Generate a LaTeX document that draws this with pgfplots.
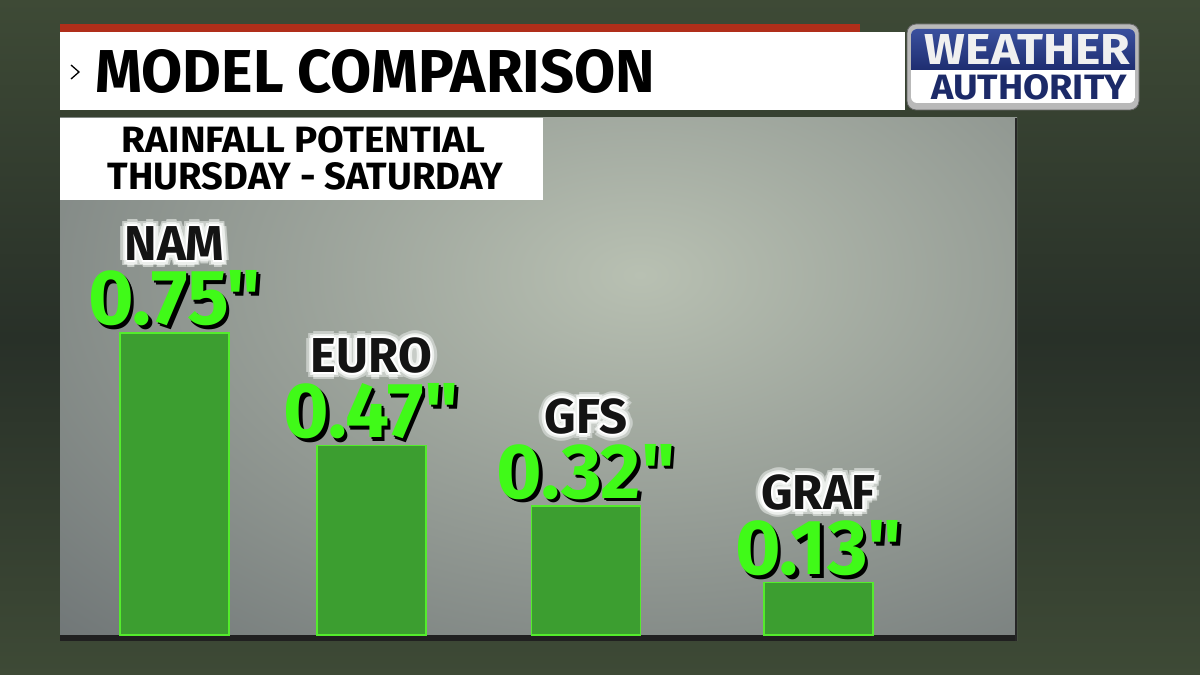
\documentclass[border=0pt]{standalone}
\usepackage{pgfplots}
\pgfplotsset{compat=1.18}
\usepackage{fontspec}
\setmainfont{Fira Sans}
\newfontfamily\valfont{Fira Sans}[Ligatures=TeXOff]
\usepackage{graphicx}

\definecolor{bgA}{RGB}{62,74,54}
\definecolor{bgB}{RGB}{40,48,40}
\definecolor{panellight}{RGB}{184,192,178}
\definecolor{paneldark}{RGB}{106,112,114}
\definecolor{redstrip}{RGB}{176,46,26}
\definecolor{barfill}{RGB}{60,158,48}
\definecolor{barline}{RGB}{84,236,44}
\definecolor{lgreen}{RGB}{64,250,24}
\definecolor{navy}{RGB}{28,42,104}
\definecolor{logoblue}{RGB}{30,45,112}
\definecolor{logobluelight}{RGB}{58,80,158}
\definecolor{glowA}{RGB}{200,205,200}
\definecolor{glowB}{RGB}{236,239,236}

\newbox\lbox
\newcommand\putat[3]{\rlap{\hspace*{#1}\raisebox{#2}[0pt][0pt]{#3}}}
\newcommand\ring[3]{%
 \putat{#1}{0pt}{\color{#3}\copy\lbox}\putat{-#1}{0pt}{\color{#3}\copy\lbox}%
 \putat{0pt}{#1}{\color{#3}\copy\lbox}\putat{0pt}{-#1}{\color{#3}\copy\lbox}%
 \putat{#2}{#2}{\color{#3}\copy\lbox}\putat{-#2}{#2}{\color{#3}\copy\lbox}%
 \putat{#2}{-#2}{\color{#3}\copy\lbox}\putat{-#2}{-#2}{\color{#3}\copy\lbox}}
\newcommand\glowname[1]{\setbox\lbox\hbox{\fontsize{49}{49}\selectfont\bfseries #1}%
 \ring{7pt}{5pt}{glowA}\ring{4.5pt}{3.2pt}{glowB}\ring{2pt}{1.4pt}{white}%
 {\color{black!92}\copy\lbox}}
\newcommand\shadowval[1]{\setbox\lbox\hbox{\valfont\fontsize{78}{78}\selectfont\bfseries #1}%
 \putat{3.5pt}{-3.5pt}{\color{black}\copy\lbox}\putat{2pt}{-2pt}{\color{black}\copy\lbox}%
 {\color{lgreen}\copy\lbox}}
\newcommand\barlabel[2]{\vbox{\offinterlineskip\halign{\hfil##\hfil\cr\glowname{#1}\cr\noalign{\vskip 10pt}\shadowval{#2}\cr}}}

\begin{document}
\begin{tikzpicture}[x=1pt,y=1pt]
\useasboundingbox (0,0) rectangle (1200,675);
% background
\shade[top color=bgA, bottom color=bgA, middle color=bgB] (0,0) rectangle (1200,675);
% panel
\begin{scope}
\clip (60,34) rectangle (1017,557);
\fill[paneldark] (60,34) rectangle (1017,557);
\shade[inner color=panellight, outer color=paneldark] (640,400) ellipse (900 and 560);
\end{scope}
\fill[black!75!gray] (60,34) rectangle (1017,40);
\draw[black!70!gray, line width=2pt] (1016,34) -- (1016,557);
% title bar
\fill[white] (60,565) rectangle (905,643);
\fill[redstrip] (60,643) rectangle (860,651);
\draw[line width=1.3pt, black] (71,610) -- (79,603) -- (71,596);
\node[anchor=base west, inner sep=0pt] at (95,582) {\resizebox{560pt}{43pt}{\bfseries MODEL COMPARISON}};
% subtitle box
\fill[white] (60,475) rectangle (543,557);
\node[anchor=base, inner sep=0pt] at (303.5,522) {\resizebox{363pt}{26pt}{\bfseries RAINFALL POTENTIAL}};
\node[anchor=base, inner sep=0pt] at (305.5,485) {\resizebox{395pt}{27pt}{\bfseries THURSDAY - SATURDAY}};
% logo
\fill[gray!55, draw=black!60, line width=0.8pt, rounded corners=9pt] (907,565) rectangle (1139,651);
\begin{scope}
\clip[rounded corners=6pt] (911,572) rectangle (1135,646);
\fill[white] (911,572) rectangle (1135,646);
\shade[top color=logobluelight, bottom color=logoblue] (911,605) rectangle (1135,646);
\end{scope}
\node[anchor=base, inner sep=0pt, text=black!6] at (1027.5,610) {\resizebox{205pt}{30pt}{\bfseries WEATHER}};
\node[anchor=base, inner sep=0pt, text=navy] at (1029,575) {\resizebox{196pt}{25pt}{\bfseries AUTHORITY}};
% chart
\begin{axis}[
  at={(60pt,40pt)}, anchor=south west,
  scale only axis, width=957pt, height=517pt,
  xmin=60, xmax=1017, ymin=0, ymax=1.2839,
  hide axis, clip=false,
  ybar, bar width=109,
  /pgf/number format/.cd, fixed, fixed zerofill, precision=2, assume math mode=true,
]
\addplot[fill=barfill, draw=barline, line width=1.5pt,
  point meta=explicit symbolic,
  nodes near coords={\barlabel{\pgfplotspointmeta}{\pgfmathprintnumber{\pgfkeysvalueof{/data point/y}}"}},
  every node near coord/.append style={anchor=south, inner sep=0pt, yshift=6pt}]
coordinates {(174.5,0.75) [NAM] (371.5,0.47) [EURO] (586,0.32) [GFS] (818.5,0.13) [GRAF]};
\end{axis}
\end{tikzpicture}
\end{document}
